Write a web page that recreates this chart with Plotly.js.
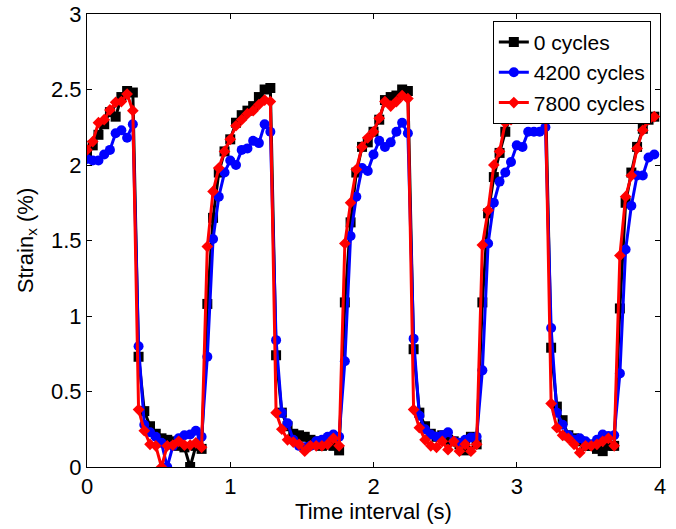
<!DOCTYPE html>
<html>
<head>
<meta charset="utf-8">
<script src="https://cdn.plot.ly/plotly-3.0.1.min.js"></script>
<style>html,body{margin:0;padding:0;background:#fff;}#chart{width:676px;height:529px;}</style>
</head>
<body>
<div id="chart"></div>
<script>
var timeS = [0.00,0.04,0.08,0.12,0.16,0.20,0.24,0.28,0.32,0.36,
0.40,0.44,0.48,0.52,0.56,0.60,0.64,0.68,0.72,0.76,
0.80,0.84,0.88,0.92,0.96,1.00,1.04,1.08,1.12,1.16,
1.20,1.24,1.28,1.32,1.36,1.40,1.44,1.48,1.52,1.56,
1.60,1.64,1.68,1.72,1.76,1.80,1.84,1.88,1.92,1.96,
2.00,2.04,2.08,2.12,2.16,2.20,2.24,2.28,2.32,2.36,
2.40,2.44,2.48,2.52,2.56,2.60,2.64,2.68,2.72,2.76,
2.80,2.84,2.88,2.92,2.96,3.00,3.04,3.08,3.12,3.16,
3.20,3.24,3.28,3.32,3.36,3.40,3.44,3.48,3.52,3.56,
3.60,3.64,3.68,3.72,3.76,3.80,3.84,3.88,3.92,3.96];

var strain0 = [2.06,2.13,2.20,2.27,2.35,2.32,2.45,2.49,2.48,
0.73,0.37,0.27,0.22,0.19,0.18,0.17,0.14,0.13,0.00,0.14,0.12,
1.08,1.65,1.95,2.09,2.17,2.28,2.33,2.36,2.39,2.45,2.50,2.51,
0.74,0.36,0.27,0.22,0.21,0.20,0.18,0.17,0.14,0.15,0.14,0.11,
1.09,1.62,1.95,2.12,2.15,2.22,2.30,2.43,2.45,2.46,2.50,2.49,
0.78,0.36,0.27,0.22,0.20,0.21,0.18,0.17,0.15,0.11,0.20,0.15,
1.09,1.68,1.92,2.08,2.22,2.34,2.38,2.42,2.45,2.47,2.49,2.50,
0.79,0.40,0.31,0.21,0.19,0.17,0.14,0.14,0.12,0.105,0.14,0.14,
1.05,1.75,1.95,2.12,2.24,2.30,2.32];

var strain4200 = [2.04,2.03,2.03,2.07,2.10,2.21,2.23,2.18,2.27,
0.80,0.28,0.23,0.20,0.16,0.00,0.14,0.19,0.21,0.215,0.24,0.20,
0.73,1.51,1.79,1.95,2.03,2.00,2.10,2.11,2.16,2.145,2.27,2.22,
0.84,0.36,0.29,0.18,0.14,0.13,0.14,0.17,0.18,0.20,0.215,0.20,
0.70,1.53,1.79,1.98,1.96,2.07,2.16,2.12,2.15,2.22,2.28,2.21,
0.85,0.34,0.25,0.215,0.20,0.21,0.23,0.17,0.16,0.18,0.195,0.20,
0.64,1.48,1.75,1.89,1.95,2.02,2.13,2.12,2.22,2.22,2.22,2.25,
0.92,0.36,0.28,0.21,0.18,0.19,0.17,0.15,0.18,0.215,0.205,0.21,
0.62,1.44,1.73,1.93,1.93,2.05,2.07];

var strain7800 = [2.10,2.155,2.28,2.30,2.365,2.415,2.42,2.47,2.36,
0.38,0.24,0.15,0.14,0.00,0.14,0.145,0.17,0.145,0.145,0.16,0.13,
1.46,1.825,1.98,2.09,2.17,2.26,2.30,2.34,2.36,2.40,2.43,2.42,
0.36,0.25,0.18,0.165,0.15,0.105,0.14,0.14,0.14,0.15,0.19,0.14,
1.48,1.75,1.97,2.12,2.18,2.22,2.31,2.42,2.39,2.42,2.46,2.44,
0.38,0.26,0.18,0.14,0.13,0.17,0.115,0.17,0.105,0.15,0.105,0.15,
1.47,1.70,2.00,2.09,2.28,2.30,2.31,2.36,2.39,2.42,2.43,2.42,
0.42,0.26,0.21,0.19,0.15,0.095,0.14,0.14,0.15,0.17,0.19,0.14,
1.40,1.79,1.93,2.11,2.23,2.30,2.32];

var seriesNames = ['0 cycles','4200 cycles','7800 cycles'];
var xTickVals = [0,1,2,3,4];
var yTickVals = [0,0.5,1,1.5,2,2.5,3];

var FONT = 'Liberation Sans, Arial, Helvetica, sans-serif';

var traces = [
  {x: timeS, y: strain0, name: seriesNames[0], type: 'scatter', mode: 'lines+markers',
   line: {color: '#000000', width: 3}, marker: {symbol: 'square', size: 10, color: '#000000'}},
  {x: timeS, y: strain4200, name: seriesNames[1], type: 'scatter', mode: 'lines+markers',
   line: {color: '#0000ff', width: 3}, marker: {symbol: 'circle', size: 10, color: '#0000ff'}},
  {x: timeS, y: strain7800, name: seriesNames[2], type: 'scatter', mode: 'lines+markers',
   line: {color: '#ff0000', width: 3}, marker: {symbol: 'diamond', size: 9, color: '#ff0000'}}
];

var axisCommon = {
  showgrid: false, zeroline: false, showline: true, linecolor: '#000', linewidth: 1,
  mirror: 'ticks', ticks: 'inside', ticklen: 5, tickcolor: '#000', tickwidth: 1,
  tickfont: {family: FONT, size: 22, color: '#000'}
};

var layout = {
  width: 676, height: 529,
  margin: {l: 87, r: 16, t: 14, b: 62, pad: 0},
  paper_bgcolor: '#fff', plot_bgcolor: '#fff',
  font: {family: FONT, color: '#000'},
  showlegend: true,
  xaxis: Object.assign({}, axisCommon, {
    range: [0, 4], tickvals: xTickVals,
    title: {text: 'Time interval (s)', font: {family: FONT, size: 22, color: '#000'}, standoff: 0}
  }),
  yaxis: Object.assign({}, axisCommon, {
    range: [0, 3], tickvals: yTickVals,
    title: {text: 'Strain<sub>x</sub> (%)', font: {family: FONT, size: 22, color: '#000'}, standoff: 11}
  }),
  legend: {
    x: 0.984, y: 0.985, xanchor: 'right', yanchor: 'top',
    bgcolor: '#fff', bordercolor: '#000', borderwidth: 1,
    font: {family: FONT, size: 21, color: '#000'},
    tracegroupgap: 0, itemwidth: 30
  }
};

Plotly.newPlot('chart', traces, layout, {displayModeBar: false, staticPlot: true});
</script>
</body>
</html>
